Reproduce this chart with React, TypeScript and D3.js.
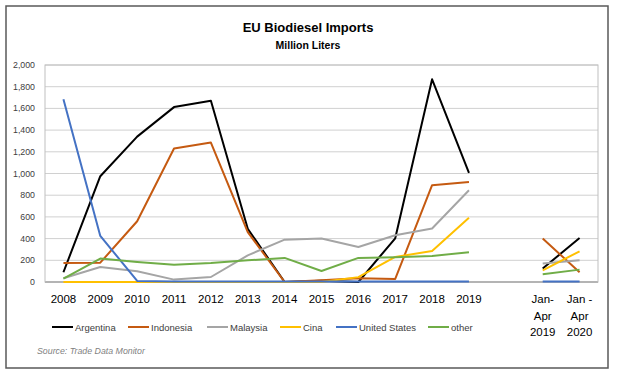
import React from "react";
import * as d3 from "d3";

const categories = ["2008","2009","2010","2011","2012","2013","2014","2015","2016","2017","2018","2019","","Jan-Apr 2019","Jan-Apr 2020"];
const categoryLabels: string[][] = [["2008"],["2009"],["2010"],["2011"],["2012"],["2013"],["2014"],["2015"],["2016"],["2017"],["2018"],["2019"],[],["Jan-","Apr","2019"],["Jan -","Apr","2020"]];

const argentina = [90, 975, 1340, 1612, 1670, 490, 0, 12, 0, 403, 1868, 1005, null, 125, 405];
const indonesia = [175, 178, 560, 1231, 1285, 460, 0, 15, 34, 28, 892, 922, null, 400, 90];
const malaysia = [35, 138, 99, 22, 46, 246, 390, 400, 323, 431, 493, 846, null, 170, 200];
const cina = [0, 0, 0, 0, 0, 0, 0, 0, 45, 231, 286, 592, null, 108, 283];
const unitedStates = [1685, 425, 10, 4, 4, 4, 4, 4, 4, 4, 4, 4, null, 4, 4];
const other = [31, 216, 185, 160, 176, 200, 222, 102, 222, 228, 240, 275, null, 71, 114];

const yTicks = [0, 200, 400, 600, 800, 1000, 1200, 1400, 1600, 1800, 2000];

const seriesNames = ["Argentina", "Indonesia", "Malaysia", "Cina", "United States", "other"];
const seriesValues = [argentina, indonesia, malaysia, cina, unitedStates, other];
const seriesColors = ["#000000", "#C55A11", "#A5A5A5", "#FFC000", "#4472C4", "#70AD47"];

const W = 617, H = 378;
const plot = { left: 45, right: 598, top: 65, bottom: 282 };
const font = "'Liberation Sans', Arial, sans-serif";

export default function App() {
  const x = d3.scaleBand<string>().domain(categories.map((c, i) => String(i))).range([plot.left, plot.right]).padding(0);
  const cx = (i: number) => (x(String(i)) as number) + x.bandwidth() / 2;
  const y = d3.scaleLinear().domain([0, 2000]).range([plot.bottom, plot.top]);
  const fmt = d3.format(",");

  const line = d3.line<number | null>()
    .defined((d) => d !== null)
    .x((_, i) => cx(i))
    .y((d) => y(d as number));

  const legendX = [52, 128, 207, 280, 336, 428];

  return (
    <svg width={W} height={H} style={{ position: "absolute", left: 0, top: 0, background: "#fff" }}>
      <rect x={0} y={0} width={W} height={H} fill="#fff" />
      <rect x={6} y={6} width={602} height={362} fill="#fff" stroke="#595959" strokeWidth={1.5} />
      <text x={308} y={31.5} textAnchor="middle" fontFamily={font} fontWeight="bold" fontSize={13} fill="#000">EU Biodiesel Imports</text>
      <text x={308} y={49} textAnchor="middle" fontFamily={font} fontWeight="bold" fontSize={10.5} fill="#000">Million Liters</text>

      {yTicks.map((t) => (
        <g key={t}>
          <line x1={plot.left} x2={plot.right} y1={y(t)} y2={y(t)} stroke={t === 0 ? "#8c8c8c" : "#d0d0d0"} strokeWidth={t === 0 ? 1.5 : 1} />
          <text x={35} y={y(t) + 3} textAnchor="end" fontFamily={font} fontSize={8.8} fill="#404040">{fmt(t)}</text>
        </g>
      ))}
      <rect x={plot.left} y={plot.top} width={plot.right - plot.left} height={plot.bottom - plot.top} fill="none" stroke="#bfbfbf" strokeWidth={1} />

      {seriesValues.map((vals, si) => (
        <path key={si} d={line(vals) || ""} fill="none" stroke={seriesColors[si]} strokeWidth={2} strokeLinejoin="round" />
      ))}

      {categoryLabels.map((lines, i) =>
        lines.map((l, j) => (
          <text key={i + "-" + j} x={cx(i)} y={303 + j * 16.5} textAnchor="middle" fontFamily={font} fontSize={11.5} fill="#000">{l}</text>
        ))
      )}

      {seriesNames.map((n, i) => (
        <g key={n}>
          <line x1={legendX[i]} x2={legendX[i] + 21} y1={327} y2={327} stroke={seriesColors[i]} strokeWidth={2} />
          <text x={legendX[i] + 23} y={330.5} fontFamily={font} fontSize={9.5} fill="#404040">{n}</text>
        </g>
      ))}

      <text x={37} y={354} fontFamily={font} fontStyle="italic" fontSize={8.8} fill="#7f7f7f">Source: Trade Data Monitor</text>
    </svg>
  );
}
